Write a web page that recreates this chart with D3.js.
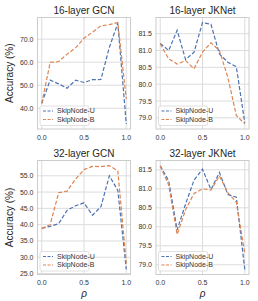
<!DOCTYPE html>
<html>
<head>
<meta charset="utf-8">
<script src="https://cdn.jsdelivr.net/npm/d3@7"></script>
<style>
  body { margin: 0; background: #fff; }
  text { font-family: "Liberation Sans", Arial, sans-serif; }
</style>
</head>
<body>
<div id="chart"></div>
<script>
// rho values on the x axis
const rho = [0.0, 0.1, 0.2, 0.3, 0.4, 0.5, 0.6, 0.7, 0.8, 0.9, 1.0];
const xTicks = [0.0, 0.5, 1.0];
const seriesNames = ["SkipNode-U", "SkipNode-B"];

const titles = ["16-layer GCN", "16-layer JKNet", "32-layer GCN", "32-layer JKNet"];

// accuracy values
const gcn16U = [42.2, 52.2, 50.6, 48.7, 52.2, 51.2, 52.4, 52.5, 66.5, 76.9, 33.2];
const gcn16B = [42.0, 59.9, 60.3, 63.5, 66.2, 70.4, 73.0, 75.8, 76.3, 77.2, 44.0];
const jk16U = [81.21, 81.0, 81.6, 80.73, 80.95, 81.83, 81.78, 80.9, 80.65, 80.52, 78.85];
const jk16B = [81.2, 80.75, 80.6, 80.7, 80.46, 80.95, 81.23, 81.0, 80.2, 79.07, 78.82];
const gcn32U = [38.9, 39.5, 40.3, 44.4, 45.8, 46.7, 42.9, 45.5, 55.0, 50.5, 26.3];
const gcn32B = [38.8, 40.0, 49.8, 50.3, 54.0, 56.9, 57.9, 57.8, 58.1, 56.5, 28.2];
const jk32U = [81.61, 81.21, 79.92, 80.6, 81.23, 81.52, 80.98, 81.43, 80.85, 80.78, 78.88];
const jk32B = [81.6, 81.1, 79.8, 80.45, 80.88, 81.0, 80.97, 81.34, 80.9, 80.65, 79.3];

const yTicks16Gcn = [40, 50, 60, 70];
const yTicksJk = [79.0, 79.5, 80.0, 80.5, 81.0, 81.5];
const yTicks32Gcn = [25, 30, 35, 40, 45, 50, 55];

const panelData = [
    { title: titles[0], series: [gcn16U, gcn16B], ticks: yTicks16Gcn },
    { title: titles[1], series: [jk16U, jk16B], ticks: yTicksJk },
    { title: titles[2], series: [gcn32U, gcn32B], ticks: yTicks32Gcn },
    { title: titles[3], series: [jk32U, jk32B], ticks: yTicksJk }
];

const width = 258, height = 301;
const colors = ["#4c72b0", "#dd8452"];

// panel boxes: left, top, width, height
const cols = [37.5, 156];
const rows = [17.5, 160.5];
const pw = 93, ph = [111.5, 114];

const svg = d3.select("#chart")
    .append("svg")
    .attr("width", width)
    .attr("height", height);

panelData.forEach(function (p, i) {
    const col = i % 2, row = Math.floor(i / 2);
    const h = ph[row];
    const g = svg.append("g")
        .attr("transform", `translate(${cols[col]}, ${rows[row]})`);

    const x = d3.scaleLinear().domain([-0.05, 1.05]).range([0, pw]);
    const all = p.series.flat();
    const lo = d3.min(all), hi = d3.max(all), pad = (hi - lo) * 0.05;
    const y = d3.scaleLinear().domain([lo - pad, hi + pad]).range([h, 0]);

    // grid
    g.selectAll(".gx").data(xTicks).join("line")
        .attr("x1", d => x(d)).attr("x2", d => x(d))
        .attr("y1", 0).attr("y2", h)
        .attr("stroke", "#dcdcdc").attr("stroke-width", 1);
    g.selectAll(".gy").data(p.ticks).join("line")
        .attr("class", "gy")
        .attr("x1", 0).attr("x2", pw)
        .attr("y1", d => y(d)).attr("y2", d => y(d))
        .attr("stroke", "#dcdcdc").attr("stroke-width", 1);

    // frame
    g.append("rect")
        .attr("width", pw).attr("height", h)
        .attr("fill", "none").attr("stroke", "#cccccc").attr("stroke-width", 1);

    // tick labels
    g.selectAll(".xt").data(xTicks).join("text")
        .attr("class", "xt")
        .attr("x", d => x(d)).attr("y", h + 10.5)
        .attr("text-anchor", "middle")
        .attr("font-size", 7)
        .attr("fill", "#333")
        .text(d => d3.format(".1f")(d));
    g.selectAll(".yt").data(p.ticks).join("text")
        .attr("class", "yt")
        .attr("x", -4).attr("y", d => y(d) + 2.5)
        .attr("text-anchor", "end")
        .attr("font-size", 7)
        .attr("fill", "#333")
        .text(d => d3.format(".1f")(d));

    // lines
    const line = d3.line()
        .x((d, j) => x(rho[j]))
        .y(d => y(d));
    p.series.forEach(function (s, k) {
        g.append("path")
            .datum(s)
            .attr("d", line)
            .attr("fill", "none")
            .attr("stroke", colors[k])
            .attr("stroke-width", 1.2)
            .attr("stroke-dasharray", "4,2");
    });

    // title
    g.append("text")
        .attr("x", pw / 2).attr("y", -4)
        .attr("text-anchor", "middle")
        .attr("font-size", 10)
        .attr("fill", "#262626")
        .text(p.title);

    // legend
    const lg = g.append("g").attr("transform", `translate(2.5, ${h - 23})`);
    lg.append("rect")
        .attr("width", 49).attr("height", 19.5)
        .attr("rx", 1.5)
        .attr("fill", "rgba(255,255,255,0.85)")
        .attr("stroke", "#d8d8d8").attr("stroke-width", 0.8);
    seriesNames.forEach(function (n, k) {
        const yy = 5 + k * 8.5;
        lg.append("line")
            .attr("x1", 3).attr("x2", 13)
            .attr("y1", yy).attr("y2", yy)
            .attr("stroke", colors[k])
            .attr("stroke-width", 1.2)
            .attr("stroke-dasharray", "3,1.5");
        lg.append("text")
            .attr("x", 17).attr("y", yy + 2.4)
            .attr("font-size", 7)
            .attr("fill", "#333")
            .text(n);
    });

    // axis labels
    if (col === 0) {
        g.append("text")
            .attr("transform", `translate(-25, ${h / 2}) rotate(-90)`)
            .attr("text-anchor", "middle")
            .attr("font-size", 10)
            .attr("fill", "#262626")
            .text("Accuracy (%)");
    }
    if (row === 1) {
        g.append("text")
            .attr("x", pw / 2).attr("y", h + 22)
            .attr("text-anchor", "middle")
            .attr("font-size", 10)
            .attr("font-style", "italic")
            .attr("fill", "#262626")
            .text("ρ");
    }
});
</script>
</body>
</html>
